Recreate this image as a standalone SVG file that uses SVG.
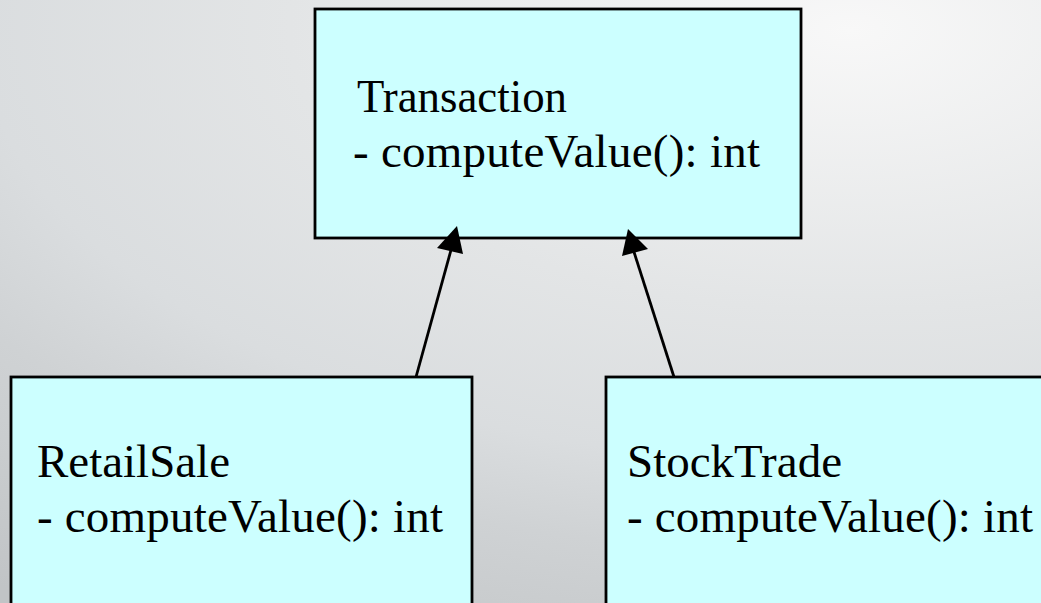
<svg xmlns="http://www.w3.org/2000/svg" width="1041" height="603" viewBox="0 0 1041 603">
<defs>
<radialGradient id="bg" gradientUnits="userSpaceOnUse" cx="0" cy="0" r="1" gradientTransform="translate(850,30) scale(1400,700)">
<stop offset="0" stop-color="#f8f8f8"/>
<stop offset="0.4" stop-color="#e3e5e6"/>
<stop offset="0.62" stop-color="#dadddf"/>
<stop offset="0.75" stop-color="#cfd2d4"/>
<stop offset="1" stop-color="#c1c4c6"/>
</radialGradient>
<style>
.box{fill:#ccffff;stroke:#000;stroke-width:2.8}
.t{font-family:"Liberation Serif","Times New Roman",serif;font-size:47px;fill:#000}
.edge{stroke:#000;stroke-width:2.8;fill:none}
.head{fill:#000}
</style>
</defs>
<rect x="0" y="0" width="1041" height="603" fill="url(#bg)"/>
<g id="Transaction">
<rect class="box" x="315" y="9" width="486" height="229"/>
<text class="t" x="357" y="112" textLength="210" lengthAdjust="spacingAndGlyphs">Transaction</text>
<text class="t" x="353" y="167" textLength="407">- computeValue(): int</text>
</g>
<g id="RetailSale">
<rect class="box" x="11" y="377" width="461" height="240"/>
<text class="t" x="37" y="477" textLength="193" lengthAdjust="spacingAndGlyphs">RetailSale</text>
<text class="t" x="37" y="532" textLength="406">- computeValue(): int</text>
</g>
<g id="StockTrade">
<rect class="box" x="606" y="377" width="460" height="240"/>
<text class="t" x="627" y="477">StockTrade</text>
<text class="t" x="627" y="532" textLength="406">- computeValue(): int</text>
</g>
<g id="connectors">
<line class="edge" x1="416" y1="377" x2="451" y2="250"/>
<polygon class="head" points="457,226 437,248 463,254"/>
<line class="edge" x1="674" y1="377" x2="634" y2="252"/>
<polygon class="head" points="628,229 622,256 648,249"/>
</g>
</svg>
